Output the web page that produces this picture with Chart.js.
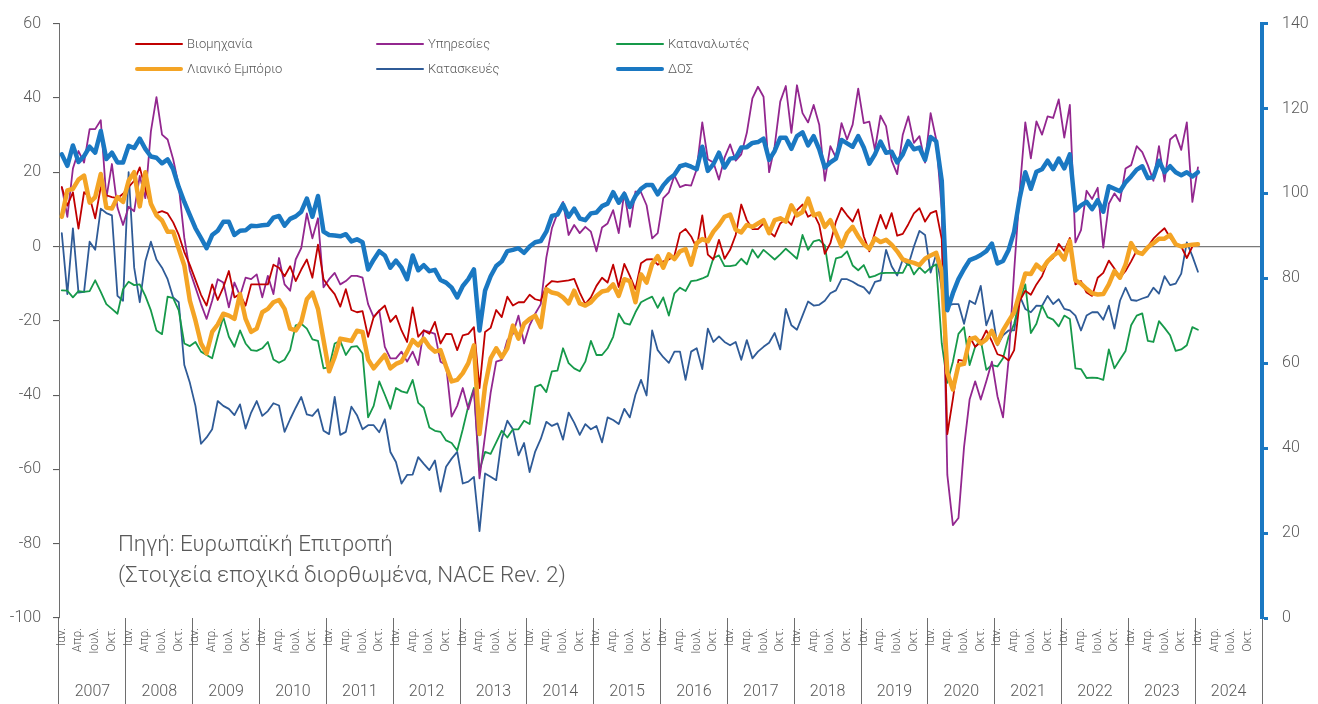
<!DOCTYPE html>
<html lang="el">
<head>
<meta charset="utf-8">
<title>Δείκτες οικονομικού κλίματος</title>
<script src="https://cdn.jsdelivr.net/npm/chart.js@4.4.1/dist/chart.umd.min.js"></script>
<style>
  html, body { margin: 0; padding: 0; background: #ffffff; }
  #wrap { position: relative; width: 1318px; height: 704px; overflow: hidden;
          font-family: Roboto, "Noto Sans", sans-serif; font-weight: 300; color: #595959; }
  #c { position: absolute; left: 0; top: 0; }
  .lg-line { position: absolute; width: 48px; border-radius: 3px; }
  .lg-text { position: absolute; font-size: 13px; line-height: 16px; white-space: nowrap; }
  #note { position: absolute; left: 118px; top: 528px; font-size: 22.4px; line-height: 31px; white-space: nowrap; }
</style>
</head>
<body>
<div id="wrap">
  <canvas id="c" width="1318" height="704"></canvas>
  <div id="legend"></div>
  <div id="note">Πηγή: Ευρωπαϊκή Επιτροπή<br>(Στοιχεία εποχικά διορθωμένα, NACE Rev. 2)</div>
</div>
<script>
// Axis categories: one per month, Jan 2007 – Dec 2024
const years = ['2007','2008','2009','2010','2011','2012','2013','2014','2015',
               '2016','2017','2018','2019','2020','2021','2022','2023','2024'];
const monthNames = ['Ιαν.','Φεβ.','Μαρ.','Απρ.','Μάι.','Ιουν.','Ιουλ.','Αυγ.','Σεπ.','Οκτ.','Νοέ.','Δεκ.'];
const shownMonths = ['Ιαν.','Απρ.','Ιουλ.','Οκτ.'];

// Confidence balances (left axis), one row per year
const industry = [
  16, 11, 14.6, 4.8, 14.6, 13.3, 7.6, 16, 13.8, 13.3, 13, 14.2,
  16, 17.7, 21.3, 15.5, 11, 9, 9.5, 8.9, 6.5, 3.1, -1.5, -5,
  -9, -13, -15.9, -10.2, -14.4, -11, -6.6, -13.7, -12.8, -15.9, -10.2, -10.2,
  -10.2, -10.2, -4.9, -5.7, -8, -5.3, -9.3, -6.2, -3.5, -8.4, 0.5, -8.8,
  -11, -12.8, -16.2, -11.5, -17.1, -17.7, -17.4, -24.3, -19, -17.3, -15.9, -20.3,
  -18.6, -22.6, -25.7, -16.4, -24.3, -22.6, -23.5, -20.3, -26.1, -23.5, -23.6, -27.9,
  -23.9, -23.5, -21.7, -38.1, -23, -21.9, -17.1, -19, -13.5, -15.9, -15, -15,
  -13, -14.2, -14.6, -10.6, -9.3, -9.5, -9.3, -9.1, -8.7, -12.4, -15.5, -13.7,
  -10.6, -8.4, -9.7, -4.9, -10.9, -4.7, -7.9, -11.5, -4.5, -3.5, -3.4, -4.9,
  -4, -3.5, -2.5, 3.6, 4.7, 2.7, -0.4, 8.4, -2.2, -3.5, 1.8, -3.3,
  -0.9, 3.1, 11.3, 7.1, 4.7, 4.7, 6.2, 4, 2.7, 6.2, 7.4, 5.8,
  9.8, 11.3, 8, 8.9, 5.8, -2, 0.9, 6.7, 10.4, 8.4, 6.7, 10,
  2.7, -1.3, 3.8, 8.5, 4.8, 9, 2.9, 3.4, 6, 8.9, 10.3, 6.7,
  9, 9.6, 2, -50.5, -41, -30.5, -30.8, -24.3, -27, -25.7, -22.6, -25.5,
  -29, -29.5, -30.7, -27.9, -14.6, -11.9, -13, -10.2, -8, -4.2, -3.1, 0.7,
  -1.2, 2.3, -10.2, -9.3, -12.4, -13.3, -8.4, -7.1, -3.8, -5.9, -8.4, -6.6,
  -4, -1.1, -2, 0, 2.1, 3.6, 4.9, 2.4, 0.5, 0, -3.1, 0,
  0.6
];
const services = [
  16, 8, 21, 25.7, 22.6, 31.6, 31.6, 34, 13, 22.2, 10.5, 5.8,
  10.7, 9.5, 19, 13, 31, 40.2, 30.1, 28.8, 23.5, 16.4, 2.3, -6.6,
  -11, -15.5, -19.5, -14.6, -8.8, -9.7, -16.4, -9.7, -13.3, -8.4, -8.8, -7.5,
  -13.7, -7.9, -12.8, -3.1, -10.2, -11.9, -3.5, -0.4, 8.9, 2.2, 7.6, -11,
  -8.8, -7.1, -10.2, -9.3, -7.9, -7.9, -8.4, -15.5, -19, -17.2, -27, -30.1,
  -30.1, -28.3, -31, -28.3, -31.9, -22.6, -23, -23.5, -31, -31.9, -45.8, -42.9,
  -38.1, -43.8, -38.5, -62.4, -50.9, -39.4, -31, -30.5, -25.2, -23.5, -18.6, -26.1,
  -21.2, -18.1, -15.5, -3, 4.9, 8.9, 12, 3.1, 5.8, 3.6, 5.3, 4,
  -1.3, 5.1, 6.2, 9.8, 3.6, 14.6, 5.3, 14.8, 14.6, 11.1, 2.2, 3.6,
  13, 14.6, 19.1, 16, 16.6, 16.4, 20.8, 33.4, 23.5, 22.6, 18, 23.9,
  27.5, 23.1, 24.8, 30.6, 39.9, 43, 40.3, 20, 27, 39, 43.2, 30.6,
  43.4, 35.9, 33.4, 38.1, 32.8, 17.7, 27, 23.9, 33.2, 28.8, 32.8, 42.5,
  33.2, 33.6, 26, 35.2, 32.4, 23.1, 19.5, 30.1, 35, 27.9, 29.7, 22.6,
  35.9, 28.8, 10, -61.5, -75, -73.1, -54, -41.2, -36.3, -41.2, -36.3, -31,
  -40.3, -46, -30.5, -6.6, 15, 33.4, 23.7, 33.7, 30.1, 35, 34.6, 39.6,
  29.3, 38.1, 1.1, 4.4, 15, 12.8, 15.8, -0.3, 11.5, 14.3, 12.2, 21,
  21.9, 27, 25.4, 21.9, 17.7, 27, 17.5, 28.8, 30.1, 26, 33.4, 12,
  21.3
];
const consumers = [
  -11.8, -11.9, -13.7, -12, -12.2, -12, -9.1, -12.2, -15.5, -16.8, -18.1, -11.5,
  -9.5, -10.4, -10.2, -13.3, -17.2, -22.6, -23.6, -13.5, -13.9, -17.2, -26.1, -26.8,
  -25.7, -28.3, -29.2, -30.1, -24.3, -19, -24.3, -27, -22.6, -26.1, -27.9, -28.1,
  -27.4, -25.7, -30.4, -31.3, -30.5, -27.9, -21.2, -20.8, -22.1, -25, -25.4, -32.8,
  -32.5, -26.1, -25.4, -29.2, -27, -26.8, -28.8, -46, -42.9, -36.3, -39.9, -43.7,
  -38.1, -39, -39.4, -35.9, -42.1, -43.4, -48.7, -49.6, -49.9, -52.2, -52.9, -54.9,
  -49.2, -42.9, -38.1, -60.2, -55.3, -55.8, -52.7, -49.6, -51.4, -49.2, -49.2, -46.9,
  -47.8, -37.8, -37.2, -39.2, -33.6, -33.4, -27.4, -31.4, -32.8, -33.6, -31, -25.4,
  -29.2, -29.2, -27.4, -24.3, -18.1, -20.6, -21, -17.7, -15, -14.2, -13.5, -16.5,
  -13.7, -18.6, -12.6, -11.1, -12, -9.3, -9.1, -8.6, -7.9, -3.1, -2.4, -5.3,
  -5.3, -5, -3.3, -4.8, -0.8, -3, -0.9, -2.2, -3.5, -2.1, -0.6, -1.9,
  -3.3, 3.1, -0.9, 1.4, 1.8, 0.3, -9.3, -3.2, -2.8, -1.3, -5.1, -6.4,
  -5, -8.3, -7.9, -7.2, -7.1, -7.1, -7.1, -7.1, -4.2, -7.5, -5.6, -7.1,
  -5.7, -4.8, -26.1, -36.7, -31, -23.5, -21.7, -31.9, -27, -25.2, -33.2, -31.9,
  -32.3, -30.1, -24.3, -20.8, -14.6, -10.2, -23.3, -20.8, -15.9, -19, -19.7, -21.5,
  -18.6, -19.5, -32.8, -33, -35.4, -35.3, -35.4, -35.9, -27.7, -32.8, -30.4, -28.1,
  -21.2, -18.6, -18, -25.4, -25.7, -20.1, -21.9, -23.9, -28.1, -27.7, -26.6, -21.7,
  -22.4
];
const retail = [
  8, 15.1, 15.5, 18, 19.1, 11.8, 13.3, 19.5, 10.5, 10.2, 13.3, 12,
  17.7, 20, 10.8, 20, 11.5, 8.4, 7, 4, 4, -0.6, -5.1, -14.6,
  -19.9, -26.1, -28.8, -23, -21, -18.1, -18.6, -19.5, -12.8, -19.5, -23, -22.1,
  -17.7, -16.8, -15, -14.4, -16.8, -22.1, -22.6, -20.3, -14.2, -12.4, -16.8, -25.2,
  -33.6, -29.7, -24.8, -25.1, -25.4, -22.7, -23, -30.4, -32.8, -31, -29.2, -32.8,
  -31.6, -31, -28.3, -25.2, -26.6, -24.8, -27, -28.3, -27.9, -32.3, -36.3, -35.9,
  -34.1, -31.4, -26.6, -50.5, -37.6, -30.1, -27.4, -29.8, -27.4, -21.3, -24.8, -20.8,
  -19.5, -18.6, -21.7, -11.5, -12.4, -12.7, -13.7, -15.3, -11.9, -15.3, -15.9, -15,
  -13.3, -12.1, -11.8, -10.2, -13.3, -8.8, -9.3, -15, -7.5, -9.7, -4.7, -2.6,
  -5.7, -2.1, -3.4, -1.3, -0.7, -4.9, 0.9, 2, 1.4, 4, 5.8, 8,
  8.6, 4.5, 3.8, 5.8, 5.3, 6.2, 7.1, 3.6, 7.1, 7.6, 6.7, 11.1,
  8.4, 9.3, 12.9, 8.4, 8.9, 5.3, 7.1, 3.6, 0, 3.6, 5.3, 2.7,
  0.6, -0.6, 2.2, 1.2, 1.8, 0.5, -1.3, -3.5, -4, -4.4, -5, -3.3,
  -2.4, -1.7, -6.6, -34, -38.5, -31.9, -31.6, -25, -24.5, -26.1, -25, -22.7,
  -26.1, -22.6, -20.1, -17.7, -12.4, -7.3, -7.4, -4.9, -6.2, -4, -2.5, -1.4,
  -3.5, 1.5, -9.1, -10, -11.4, -12.6, -12.9, -12.8, -10.2, -6.6, -8.4, -4.9,
  0.9, -1.5, -2, -0.2, 0.9, 2.1, 2.1, 3.1, 0.6, 0, 0.3, 0.5,
  0.6
];
const construction = [
  3.6, -12.8, 4.9, -12.4, -12.2, 1.3, -0.9, 10.2, 9, 8.4, -13.3, -14.6,
  20, -5.7, -15, -4, 1.3, -3.5, -5.7, -8.8, -13.7, -15, -31.9, -36.7,
  -42.9, -53.1, -51.4, -49.2, -41.6, -42.9, -43.7, -45.4, -42.5, -49, -44.7, -41.6,
  -45.6, -44.3, -42.2, -42.8, -49.9, -46.5, -43.4, -40.5, -45.2, -45.6, -43.8, -49.6,
  -50.5, -40.5, -50.7, -49.9, -43.1, -45.4, -49.2, -48.1, -48.1, -50, -46.5, -55.3,
  -58, -63.8, -61.5, -61.4, -56.7, -58.5, -60.2, -57.6, -66, -59.3, -57.1, -55.3,
  -63.8, -63.3, -62, -76.6, -61.1, -62, -62.9, -51.8, -46.9, -49.2, -56.2, -52.9,
  -60.7, -55.2, -51.8, -47.2, -48.3, -47.6, -52, -44.7, -47.4, -50.7, -47.8, -49.2,
  -48.3, -52.7, -46, -46.7, -47.8, -43.7, -46, -39.9, -35.9, -40.1, -22.6, -27.9,
  -29.8, -31.3, -28.3, -28.3, -35.9, -28.3, -27.4, -33, -22.1, -25.7, -24.2, -25.7,
  -26.6, -25.7, -30.5, -25.2, -30.1, -28.3, -27, -25.9, -23.3, -27.7, -16.8, -21.2,
  -22.4, -18.6, -14.8, -15.9, -15.7, -14.6, -12.6, -11.8, -8.8, -8.8, -9.5, -10.4,
  -11, -12.7, -9.5, -9.1, -0.9, -5.3, -7.8, -3.5, -5, 0, 4.2, 3.1,
  -7, -2.1, -11.5, -15.9, -15.5, -15.5, -20.8, -14.6, -15.5, -10.6, -21.2, -17.2,
  -26.6, -23.9, -22.6, -22.6, -13.3, -16.8, -17.7, -15.9, -16, -13.3, -15.5, -14.2,
  -16.8, -17.2, -18.6, -22.6, -18.6, -17.7, -17.7, -19.7, -15.9, -22.1, -14.6, -11.1,
  -14.4, -14.6, -14, -13.5, -11.1, -12.7, -8, -10.4, -10, -7.3, 1.1, -2.6,
  -6.8
];
// Economic sentiment indicator (right axis)
const esi = [
  109.2, 106.5, 111.3, 107.4, 108.8, 111, 109.6, 114.7, 108.1, 109.6, 107.3, 107.3,
  111.2, 110.7, 112.9, 110.5, 108.7, 108.4, 107.1, 108, 105.7, 101.5, 98, 94.9,
  91.8, 89.5, 87.1, 90.2, 91.2, 93.3, 93.3, 90.2, 91.2, 91.3, 92.4, 92.3,
  92.5, 92.6, 94.3, 94.7, 92.4, 94, 94.6, 95.7, 98.8, 94.5, 99.4, 91,
  90.2, 90.1, 89.9, 90.4, 88.7, 89.2, 88.5, 82.1, 84.4, 86.4, 85.4, 82.5,
  84.2, 82.5, 79.8, 85.4, 81.9, 83.1, 81.7, 82, 79.6, 79, 77.8, 75.5,
  78.2, 79.8, 82.1, 67.7, 77.1, 80.5, 82.9, 84, 86.4, 86.7, 87.1, 86,
  87.5, 88.5, 88.8, 91, 94.7, 95, 97.4, 94.5, 96.4, 94.1, 93.7, 95.3,
  95.5, 97, 97.6, 100.3, 97.8, 99.9, 96.8, 99.4, 101.1, 102, 102, 99.8,
  101.9, 103.4, 104.4, 106.4, 106.8, 106.3, 105.7, 111, 105.3, 106.9, 109.6, 106.1,
  108.2, 108.4, 110.8, 110.9, 111.9, 112.1, 112.9, 107.9, 110, 113.1, 113.1, 110.5,
  113.5, 114.4, 111.3, 113.5, 110.4, 106.1, 107.3, 108.2, 112.6, 111.8, 111, 113.5,
  110.8, 107, 109.2, 112.2, 109.6, 109.8, 107.3, 109.2, 112.3, 110.4, 110.8, 107.9,
  113.3, 112.3, 103, 72.5, 76.5, 79.8, 82.2, 84.3, 84.8, 85.5, 86.4, 88.2,
  83.5, 84.1, 86.7, 91, 99, 105, 101.1, 105.1, 105.7, 107.7, 105.7, 108.2,
  105.9, 109.2, 96, 97.2, 98, 96.3, 98.4, 95.7, 101.7, 101.1, 100.5, 102.6,
  104, 105.6, 106.4, 103.6, 103.8, 107.7, 105, 106.4, 105, 104.3, 105, 104,
  105
];

const categories = years.flatMap(y => monthNames.map(m => m + ' ' + y));

const TEXT = '#595959';
const RULE = '#6e6e6e';
const FONT = 'Roboto, "Noto Sans", sans-serif';

const series = [
  { label: 'Βιομηχανία',      data: industry,     color: '#c00000', width: 1.8, axis: 'y',  order: 2 },
  { label: 'Υπηρεσίες',       data: services,     color: '#93278f', width: 1.8, axis: 'y',  order: 3 },
  { label: 'Καταναλωτές',     data: consumers,    color: '#16994a', width: 1.8, axis: 'y',  order: 4 },
  { label: 'Λιανικό Εμπόριο', data: retail,       color: '#f4a425', width: 4.5, axis: 'y',  order: 1 },
  { label: 'Κατασκευές',      data: construction, color: '#2f5b97', width: 1.8, axis: 'y',  order: 5 },
  { label: 'ΔΟΣ',             data: esi,          color: '#1a78c2', width: 4.5, axis: 'y1', order: 0 }
];

// Band under the plot (86px): the year axis fills it and draws the year separators
// through its full height; the month axis is pinned to the bottom of the left scale
// and writes its rotated labels into the top part of the same band.
const BAND = 86;
const MONTH_TOP = 10;   // plot bottom -> top of month labels
const YEAR_MID = 74;    // plot bottom -> middle of year labels

const chart = new Chart(document.getElementById('c'), {
  type: 'line',
  data: {
    labels: categories,
    datasets: series.map(s => ({
      label: s.label,
      data: s.data,
      borderColor: s.color,
      backgroundColor: s.color,
      borderWidth: s.width,
      xAxisID: 'x',
      yAxisID: s.axis,
      order: s.order,
      pointRadius: 0,
      tension: 0,
      fill: false,
      borderJoinStyle: 'round',
      borderCapStyle: 'round'
    }))
  },
  options: {
    responsive: false,
    animation: false,
    devicePixelRatio: 1,
    layout: { padding: { top: 16, left: 0, right: 0, bottom: 0 } },
    plugins: { legend: { display: false }, tooltip: { enabled: false } },
    scales: {
      x: {
        type: 'category',
        position: { y: -100 },
        offset: true,
        border: { display: false },
        grid: { display: false, drawTicks: false, drawOnChartArea: false },
        ticks: {
          autoSkip: false,
          maxRotation: 90,
          minRotation: 90,
          padding: MONTH_TOP,
          color: TEXT,
          font: { family: FONT, size: 12, weight: '300' },
          callback: (v, i) => {
            const m = monthNames[i % 12];
            return shownMonths.includes(m) ? m : '';
          }
        },
        afterFit: s => { s.height = 0; }
      },
      xYear: {
        type: 'category',
        position: 'bottom',
        labels: years,
        offset: true,
        border: { display: false },
        grid: {
          offset: true,
          drawOnChartArea: false,
          tickLength: BAND,
          lineWidth: 1,
          color: RULE
        },
        ticks: {
          autoSkip: false,
          maxRotation: 0,
          minRotation: 0,
          padding: YEAR_MID - BAND - 9.6,
          color: TEXT,
          font: { family: FONT, size: 16, weight: '300' }
        },
        afterFit: s => { s.height = BAND; }
      },
      y: {
        type: 'linear',
        position: 'left',
        min: -100,
        max: 60,
        border: { display: true, color: RULE, width: 1 },
        grid: {
          drawOnChartArea: true,
          tickLength: 6,
          tickColor: '#4d4d4d',
          tickWidth: 1,
          lineWidth: 1.2,
          color: ctx => (ctx.tick && ctx.tick.value === 0 ? '#7a7a7a' : 'rgba(0,0,0,0)')
        },
        ticks: {
          stepSize: 20,
          padding: 12,
          color: TEXT,
          font: { family: FONT, size: 16, weight: '300' }
        },
        afterFit: s => { s.width = 59; }
      },
      y1: {
        type: 'linear',
        position: 'right',
        min: 0,
        max: 140,
        border: { display: true, color: '#1a78c2', width: 4 },
        grid: {
          drawOnChartArea: false,
          tickLength: 6,
          tickColor: '#1a78c2',
          tickWidth: 3
        },
        ticks: {
          stepSize: 20,
          padding: 14,
          color: TEXT,
          font: { family: FONT, size: 16, weight: '300' }
        },
        afterFit: s => { s.width = 56; }
      }
    }
  }
});

// Legend: three columns, two rows, built from the dataset styles
const legendBox = document.getElementById('legend');
const colX = [135, 376, 616];
const rowY = [44, 69];
chart.data.datasets.forEach((ds, i) => {
  const cx = colX[i % 3];
  const cy = rowY[Math.floor(i / 3)];
  const line = document.createElement('div');
  line.className = 'lg-line';
  line.style.left = cx + 'px';
  line.style.top = (cy - ds.borderWidth / 2) + 'px';
  line.style.height = ds.borderWidth + 'px';
  line.style.background = ds.borderColor;
  legendBox.appendChild(line);
  const txt = document.createElement('div');
  txt.className = 'lg-text';
  txt.style.left = (cx + 52) + 'px';
  txt.style.top = (cy - 8) + 'px';
  txt.textContent = ds.label;
  legendBox.appendChild(txt);
});
</script>
</body>
</html>
